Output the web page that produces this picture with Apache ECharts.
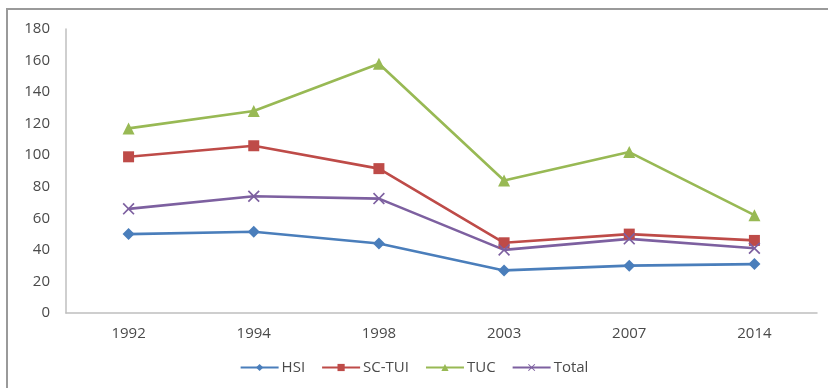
<!DOCTYPE html>
<html>
<head>
<meta charset="utf-8">
<script src="https://cdn.jsdelivr.net/npm/echarts@6/dist/echarts.min.js"></script>
<style>
  html, body { margin: 0; padding: 0; background: #fff; }
  #chart { width: 828px; height: 388px; }
</style>
</head>
<body>
<div id="chart"></div>
<script>
// Survey years and index values per series
const years = ['1992', '1994', '1998', '2003', '2007', '2014'];
const hsi = [50, 51.5, 44, 27, 30, 31];
const scTui = [99, 106, 91.5, 44.5, 50, 46];
const tuc = [117, 128, 158, 84, 102, 62];
const total = [66, 74, 72.5, 40, 47, 41];
const yTicks = [0, 20, 40, 60, 80, 100, 120, 140, 160, 180];

const FONT = '"Open Sans", "Liberation Sans", sans-serif';
const TEXT = '#4a4a4a';
const crossPath = 'path://M0,1 L1,0 L5,4 L9,0 L10,1 L6,5 L10,9 L9,10 L5,6 L1,10 L0,9 L4,5 Z';

function lineSeries(name, data, color, symbol, size) {
  return {
    name: name,
    type: 'line',
    data: data,
    symbol: symbol,
    symbolSize: size,
    showAllSymbol: true,
    lineStyle: { color: color, width: 2.6 },
    itemStyle: { color: color, borderWidth: 0 },
    emphasis: { disabled: true }
  };
}

const chart = echarts.init(document.getElementById('chart'), null, { renderer: 'canvas' });
chart.setOption({
  animation: false,
  backgroundColor: '#ffffff',
  textStyle: { fontFamily: FONT },
  graphic: [{
    type: 'rect',
    shape: { x: 7, y: 9, width: 830, height: 400 },
    style: { fill: 'none', stroke: '#9a9a9a', lineWidth: 2 },
    silent: true
  }],
  grid: { left: 66, right: 11, top: 29, bottom: 75, containLabel: false },
  xAxis: {
    type: 'category',
    data: years,
    boundaryGap: true,
    axisLine: { show: true, lineStyle: { color: '#bfbfbf', width: 1.5 } },
    axisTick: { show: false },
    axisLabel: { color: TEXT, fontSize: 15, fontFamily: FONT, margin: 13 },
    splitLine: { show: false }
  },
  yAxis: {
    type: 'value',
    min: yTicks[0],
    max: yTicks[yTicks.length - 1],
    interval: 20,
    axisLine: { show: true, lineStyle: { color: '#bfbfbf', width: 1.5 } },
    axisTick: { show: false },
    axisLabel: { color: TEXT, fontSize: 15, fontFamily: FONT, margin: 16 },
    splitLine: { show: false }
  },
  legend: {
    bottom: 8,
    left: 'center',
    itemWidth: 38,
    itemHeight: 9,
    itemGap: 16,
    textStyle: { color: TEXT, fontSize: 15, fontFamily: FONT, padding: [0, 0, 0, -2] },
    data: ['HSI', 'SC-TUI', 'TUC', 'Total']
  },
  series: [
    lineSeries('HSI', hsi, '#4a7ebb', 'diamond', 12),
    lineSeries('SC-TUI', scTui, '#be4b48', 'rect', 11),
    lineSeries('TUC', tuc, '#98b954', 'triangle', 12),
    lineSeries('Total', total, '#7d60a0', crossPath, 12)
  ]
});
</script>
</body>
</html>
